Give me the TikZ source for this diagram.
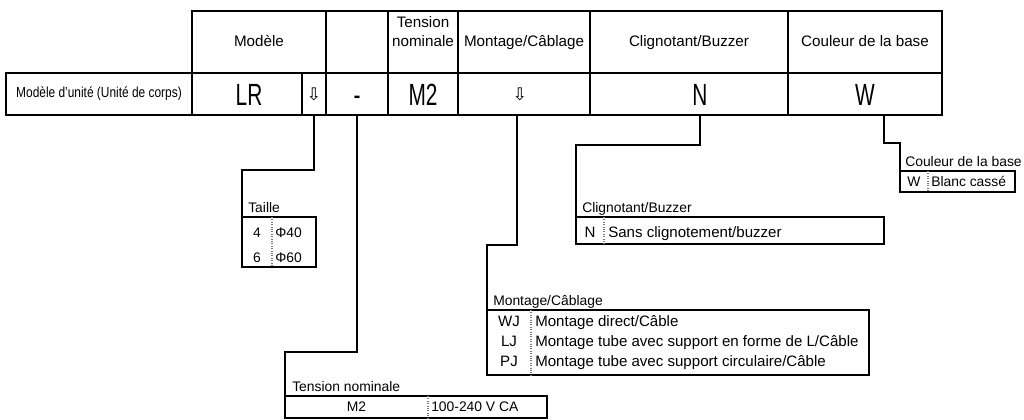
\documentclass[tikz,border=0pt]{standalone}
\usepackage{fontspec}
\setmainfont{Liberation Sans}
\newfontfamily\codefont{Liberation Sans}[FakeStretch=0.68]
\newfontfamily\narrowfont{Liberation Sans}[FakeStretch=0.82]
\newfontfamily\arrowfont{DejaVu Sans}
\usetikzlibrary{positioning,calc}
\definecolor{TableInk}{HTML}{000000}
\definecolor{DividerGray}{HTML}{7A7A7A}

\begin{document}
\begin{tikzpicture}[
    x=0.75pt, y=-0.75pt,
    cell/.style={
      draw=TableInk,
      line width=1.6pt,
      inner sep=0pt,
      outer sep=0pt,
      align=center
    },
    head/.style={
      cell,
      minimum height=46.5pt,
      text height=8.6pt,
      text depth=2.2pt,
      font=\fontsize{11.4}{14}\selectfont
    },
    code/.style={
      cell,
      minimum height=31.5pt,
      text height=16.5pt,
      text depth=0pt,
      font=\codefont\fontsize{23}{26}\selectfont
    },
    pointer/.style={
      cell,
      minimum height=31.5pt,
      font=\arrowfont\fontsize{13}{14}\selectfont
    },
    legendbox/.style={
      draw=TableInk,
      line width=1.6pt,
      inner sep=0pt,
      outer sep=0pt
    },
    legendtitle/.style={anchor=base west, inner sep=0pt, font=\fontsize{10.4}{12}\selectfont},
    legendkey/.style={anchor=base, inner sep=0pt, font=\fontsize{10.4}{12}\selectfont},
    legendtext/.style={anchor=base west, inner sep=0pt, font=\fontsize{10.4}{12}\selectfont},
    widekey/.style={legendkey, font=\fontsize{11.3}{13}\selectfont},
    widetext/.style={legendtext, font=\fontsize{11.3}{13}\selectfont},
    divider/.style={draw=DividerGray, densely dotted, line width=0.8pt},
    link/.style={draw=TableInk, line width=1.6pt}
  ]
    \useasboundingbox (0,0) rectangle (1024,419);

    \node[head, minimum width=100.5pt] (hModel) at (259,42) {Modèle};
    \node[head, minimum width=46.5pt] (hDash) at (357,42) {};
    \node[head, minimum width=52.5pt] (hVolt) at (423,42) {Tension\\nominale};
    \node[head, minimum width=99pt] (hMount) at (524,42) {Montage/Câblage};
    \node[head, minimum width=148.5pt] (hBlink) at (689,42) {Clignotant/Buzzer};
    \node[head, minimum width=115.5pt] (hColour) at (865,42) {Couleur de la base};

    \node[cell, minimum width=139.5pt, minimum height=31.5pt, font=\narrowfont\fontsize{10.9}{12}\selectfont] (unit) at (99,94) {Modèle d’unité (Unité de corps)};
    \node[code, minimum width=82.5pt] (cLR) at (247,94) {\hspace*{3pt}LR};
    \node[pointer, minimum width=18pt] (cSize) at (314,94) {⇩};
    \node[code, minimum width=46.5pt] (cDash) at (357,94) {-};
    \node[code, minimum width=52.5pt] (cVolt) at (423,94) {M2};
    \node[pointer, minimum width=99pt] (cMount) at (524,94) {\hspace*{-6pt}⇩};
    \node[code, minimum width=148.5pt] (cBlink) at (689,94) {\hspace*{16.5pt}N};
    \node[code, minimum width=115.5pt] (cColour) at (865,94) {W};

    \node[legendbox, minimum width=55.5pt, minimum height=37.5pt] (sizeBox) at (279,242) {};
    \node[legendtitle] (sizeTitle) at ([shift={(6,-5)}]sizeBox.north west) {Taille};
    \node[legendkey] (sizeK1) at (257,237) {4};
    \node[legendtext] (sizeV1) at (275,237) {Φ40};
    \node[legendkey] (sizeK2) at (257,262) {6};
    \node[legendtext] (sizeV2) at (275,262) {Φ60};
    \draw[divider] (272,217) -- (272,267);

    \node[legendbox, minimum width=231pt, minimum height=20.25pt] (blinkBox) at (730,230.5) {};
    \node[legendtitle] (blinkTitle) at ([shift={(6,-5)}]blinkBox.north west) {Clignotant/Buzzer};
    \node[widekey] (blinkK1) at (590,237) {N};
    \node[widetext] (blinkV1) at (608,237) {Sans clignotement/buzzer};
    \draw[divider] (604,217) -- (604,244);

    \node[legendbox, minimum width=286.5pt, minimum height=48.75pt] (mountBox) at (678,342.5) {};
    \node[legendtitle] (mountTitle) at ([shift={(6,-5)}]mountBox.north west) {Montage/Câblage};
    \node[widekey] (mountK1) at (509,326) {WJ};
    \node[widetext] (mountV1) at (535,326) {Montage direct/Câble};
    \node[widekey] (mountK2) at (509,346) {LJ};
    \node[widetext] (mountV2) at (535,346) {Montage tube avec support en forme de L/Câble};
    \node[widekey] (mountK3) at (509,366) {PJ};
    \node[widetext] (mountV3) at (535,366) {Montage tube avec support circulaire/Câble};
    \draw[divider] (531,310) -- (531,375);

    \node[legendbox, minimum width=196.5pt, minimum height=16.5pt] (voltBox) at (416,407) {};
    \node[legendtitle] (voltTitle) at ([shift={(7,-5)}]voltBox.north west) {Tension nominale};
    \node[legendkey] (voltK1) at (356.5,411.5) {M2};
    \node[legendtext] (voltV1) at (431,411.5) {100-240 V CA};
    \draw[divider] (428,396) -- (428,418);

    \node[legendbox, minimum width=86.25pt, minimum height=15.75pt] (colourBox) at (957.5,181.5) {};
    \node[legendtitle] (colourTitle) at ([shift={(5,-5)}]colourBox.north west) {Couleur de la base};
    \node[legendkey] (colourK1) at (914,186) {W};
    \node[legendtext] (colourV1) at (931,186) {Blanc cassé};
    \draw[divider] (928,171) -- (928,192);

    \draw[link] (cSize.south) -- ++(0,55) -| (sizeBox.north west);
    \draw[link] (cDash.south) -- ++(0,237) -| (voltBox.north west);
    \draw[link] ([xshift=-5.25pt]cMount.south) -- ++(0,130) -| (mountBox.north west);
    \draw[link] ([xshift=8.25pt]cBlink.south) -- ++(0,30) -| (blinkBox.north west);
    \draw[link] ([xshift=14.25pt]cColour.south) -- ++(0,28) -| (colourBox.north west);
  \end{tikzpicture}
\end{document}
